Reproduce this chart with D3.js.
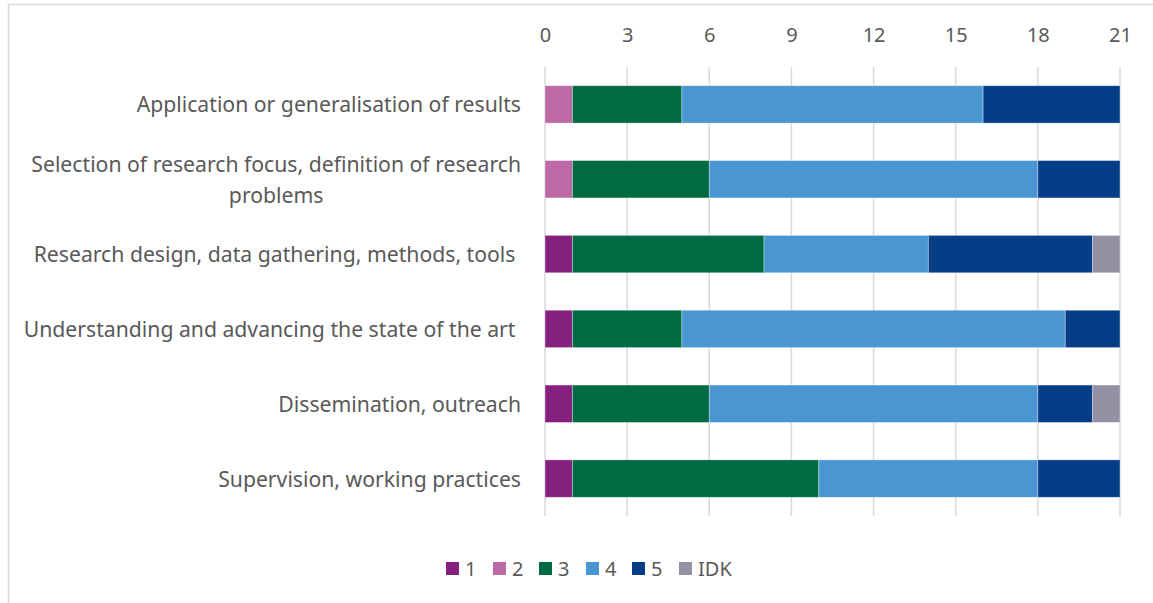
<!DOCTYPE html>
<html>
<head>
<meta charset="utf-8">
<script src="https://cdn.jsdelivr.net/npm/d3@7"></script>
<style>
  html, body { margin: 0; padding: 0; background: #fff; }
  svg { display: block; font-family: "Noto Sans", Lato, sans-serif; }
</style>
</head>
<body>
<svg id="chart" width="1153" height="603"></svg>
<script>
// Survey areas (top to bottom) and count of responses per rating
const categories = [
  ["Application or generalisation of results"],
  ["Selection of research focus, definition of research", "problems"],
  ["Research design, data gathering, methods, tools "],
  ["Understanding and advancing the state of the art "],
  ["Dissemination, outreach"],
  ["Supervision, working practices"]
];
const seriesNames = ["1", "2", "3", "4", "5", "IDK"];
const s1   = [0, 0, 1, 1, 1, 1];
const s2   = [1, 1, 0, 0, 0, 0];
const s3   = [4, 5, 7, 4, 5, 9];
const s4   = [11, 12, 6, 14, 12, 8];
const s5   = [5, 3, 6, 2, 2, 3];
const sIDK = [0, 0, 1, 0, 1, 0];
const tickValues = [0, 3, 6, 9, 12, 15, 18, 21];
const colors = ["#86207F", "#BD69A6", "#006A43", "#4A96D2", "#053D87", "#9590A4"];

const seriesValues = [s1, s2, s3, s4, s5, sIDK];
const rows = categories.map((c, i) => {
  const r = { key: i };
  seriesNames.forEach((s, j) => r[s] = seriesValues[j][i]);
  return r;
});

const svg = d3.select("#chart");
const font = "\"Noto Sans\", Lato, sans-serif";
const textColor = "#595959";
const gridColor = "#D9D9D9";

// chart area frame
svg.append("rect")
  .attr("x", 8.5).attr("y", 4.5)
  .attr("width", 1150).attr("height", 610)
  .attr("fill", "#fff").attr("stroke", gridColor).attr("stroke-width", 1.5);

const x = d3.scaleLinear().domain([0, 21]).range([545, 1120]);
const y = d3.scaleBand().domain(d3.range(categories.length))
  .range([67, 516]).paddingInner(0.5).paddingOuter(0.25);

// vertical gridlines
svg.append("g").selectAll("line").data(tickValues).join("line")
  .attr("x1", d => x(d)).attr("x2", d => x(d))
  .attr("y1", 67).attr("y2", 516)
  .attr("stroke", gridColor).attr("stroke-width", 1.5);

// top value axis
const xAxis = svg.append("g").attr("transform", "translate(0,42)")
  .call(d3.axisTop(x).tickValues(tickValues).tickSize(0).tickPadding(0));
xAxis.select(".domain").remove();
xAxis.selectAll("text")
  .attr("fill", textColor).attr("font-size", 20)
  .attr("font-family", font);

// stacked bars
const stack = d3.stack().keys(seriesNames)(rows);
svg.append("g").selectAll("g").data(stack).join("g")
  .attr("fill", (d, i) => colors[i])
  .selectAll("rect").data(d => d.filter(p => p[1] > p[0])).join("rect")
  .attr("x", d => x(d[0]))
  .attr("width", d => x(d[1]) - x(d[0]))
  .attr("y", d => y(d.data.key))
  .attr("height", y.bandwidth())
  .attr("stroke", "#ffffff").attr("stroke-opacity", 0.45).attr("stroke-width", 0.8);

// category labels
const labels = svg.append("g")
  .attr("fill", textColor).attr("font-size", 21.2);
categories.forEach((lines, i) => {
  const cy = y(i) + y.bandwidth() / 2 + 0.5;
  const lh = 31;
  const top = cy - (lines.length - 1) * lh / 2;
  const first = labels.append("text")
    .attr("xml:space", "preserve")
    .attr("x", 521).attr("y", top)
    .attr("dy", "0.35em")
    .attr("text-anchor", "end")
    .text(lines[0]);
  if (lines.length > 1) {
    const w = first.node().getComputedTextLength();
    lines.slice(1).forEach((ln, k) => {
      labels.append("text")
        .attr("x", 521 - w / 2).attr("y", top + (k + 1) * lh)
        .attr("dy", "0.35em")
        .attr("text-anchor", "middle")
        .text(ln);
    });
  }
});

// legend
const legendX = [446, 493, 539, 586, 632, 679];
const legend = svg.append("g").selectAll("g").data(seriesNames).join("g")
  .attr("transform", (d, i) => `translate(${legendX[i]},562)`);
legend.append("rect")
  .attr("width", 13).attr("height", 13)
  .attr("fill", (d, i) => colors[i]);
legend.append("text")
  .attr("x", 19).attr("y", 6.5).attr("dy", "0.35em")
  .attr("fill", textColor).attr("font-size", 20)
  .text(d => d);
</script>
</body>
</html>
